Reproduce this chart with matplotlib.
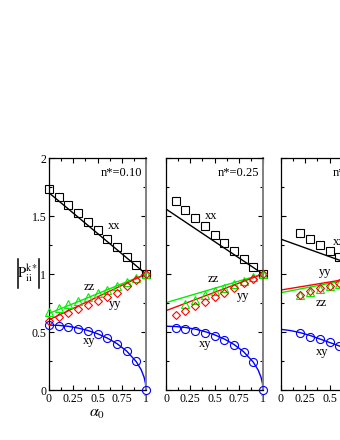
import matplotlib
matplotlib.use("Agg")
import matplotlib.pyplot as plt
from matplotlib.lines import Line2D
from matplotlib.ticker import MultipleLocator, FuncFormatter

plt.rcParams['font.family'] = ['Liberation Serif', 'DejaVu Serif']
plt.rcParams['mathtext.fontset'] = 'stix'

# ---- data ----
panel_labels = ["n*=0.10", "n*=0.25", "n*=0.50"]

# panel 1 (n*=0.10): simulation points
a1 = [0, 0.1, 0.2, 0.3, 0.4, 0.5, 0.6, 0.7, 0.8, 0.9, 1.0]
xx1 = [1.73, 1.66, 1.595, 1.53, 1.45, 1.38, 1.30, 1.23, 1.15, 1.075, 1.0]
zz1 = [0.675, 0.71, 0.74, 0.77, 0.80, 0.835, 0.865, 0.90, 0.93, 0.965, 1.0]
yy1 = [0.595, 0.63, 0.665, 0.70, 0.73, 0.765, 0.80, 0.84, 0.895, 0.945, 1.0]
xy1 = [0.56, 0.552, 0.54, 0.526, 0.509, 0.485, 0.445, 0.40, 0.336, 0.25, 0.0]

# panel 2 (n*=0.25)
a2 = [0.1, 0.2, 0.3, 0.4, 0.5, 0.6, 0.7, 0.8, 0.9, 1.0]
xx2 = [1.63, 1.555, 1.48, 1.41, 1.34, 1.27, 1.20, 1.13, 1.06, 1.0]
yy2 = [0.647, 0.684, 0.724, 0.761, 0.80, 0.84, 0.88, 0.92, 0.96, 1.0]
xy2 = [0.532, 0.523, 0.511, 0.494, 0.468, 0.43, 0.388, 0.325, 0.239, 0.0]
a2z = [0.2, 0.3, 0.4, 0.5, 0.6, 0.7, 0.8, 0.9, 1.0]
zz2 = [0.745, 0.78, 0.815, 0.85, 0.88, 0.91, 0.94, 0.97, 1.0]

# panel 3 (cut off at the right edge)
a3 = [0.2, 0.3, 0.4, 0.5, 0.6]
xx3 = [1.35, 1.30, 1.25, 1.20, 1.15]
yy3 = [0.82, 0.85, 0.876, 0.90, 0.92]
zz3 = [0.815, 0.845, 0.872, 0.897, 0.918]
xy3 = [0.488, 0.46, 0.44, 0.414, 0.38]

# theory lines (straight ones: end points)
a_line = [0, 1]
xx_th = [[1.70, 1.0], [1.56, 1.0], [1.30, 1.0]]
zz_th = [[0.66, 1.0], [0.753, 1.0], [0.839, 1.0]]
yy_th = [[0.605, 1.0], [0.684, 1.0], [0.862, 1.0]]

# xy theory curves
a_curve = [0, 0.1, 0.2, 0.3, 0.4, 0.5, 0.6, 0.7, 0.8, 0.9, 0.95, 0.98, 0.995, 1.0]
xy_th = [
    [0.56, 0.557, 0.549, 0.534, 0.513, 0.485, 0.448, 0.40, 0.336, 0.244, 0.175, 0.111, 0.056, 0.0],
    [0.55, 0.547, 0.539, 0.525, 0.504, 0.476, 0.44, 0.393, 0.33, 0.24, 0.172, 0.109, 0.055, 0.0],
    [0.523, 0.512, 0.494, 0.47, 0.44, 0.41, 0.38, 0.34, 0.29, 0.21, 0.15, 0.095, 0.048, 0.0],
]

sims = [
    dict(xx=(a1, xx1), zz=(a1, zz1), yy=(a1, yy1), xy=(a1, xy1)),
    dict(xx=(a2, xx2), zz=(a2z, zz2), yy=(a2, yy2), xy=(a2, xy2)),
    dict(xx=(a3, xx3), zz=(a3, zz3), yy=(a3, yy3), xy=(a3, xy3)),
]

# text label positions (data coords)
tags = [
    dict(xx=(0.675, 1.41), zz=(0.41, 0.89), yy=(0.68, 0.74), xy=(0.41, 0.42)),
    dict(xx=(0.47, 1.50), zz=(0.49, 0.955), yy=(0.80, 0.81), xy=(0.40, 0.40)),
    dict(xx=(0.60, 1.276), zz=(0.42, 0.75), yy=(0.45, 1.02), xy=(0.42, 0.33)),
]

W, H = 340, 440
fig = plt.figure(figsize=(W / 100, H / 100), dpi=100)

lefts = [49, 166, 281]
axw, axh = 97, 232
bottom = 50

colors = dict(xx='black', zz='#00ee00', yy='red', xy='blue')
markers = dict(xx='s', zz='^', yy='D', xy='o')
msizes = dict(xx=5.2, zz=5.2, yy=4.2, xy=5.8)

fmt = FuncFormatter(lambda v, p: '%g' % v)

for i in range(3):
    ax = fig.add_axes([lefts[i] / W, bottom / H, axw / W, axh / H])
    ax.set_xlim(0, 1)
    ax.set_ylim(0, 2)

    ax.plot(a_line, xx_th[i], color='black', lw=1)
    ax.plot(a_line, zz_th[i], color=colors['zz'], lw=1)
    ax.plot(a_line, yy_th[i], color=colors['yy'], lw=1)
    ax.plot(a_curve, xy_th[i], color=colors['xy'], lw=1)

    for k in ['xx', 'zz', 'yy', 'xy']:
        xs, ys = sims[i][k]
        ax.plot(xs, ys, ls='none', marker=markers[k], ms=msizes[k], mfc='none',
                mec=colors[k], mew=0.8, clip_on=False, zorder=5)
        tx, ty = tags[i][k]
        ax.text(tx, ty, k, fontsize=9, ha='center', va='center')

    ax.text(0.965, 0.935, panel_labels[i], transform=ax.transAxes,
            ha='right', va='center', fontsize=9)

    ax.xaxis.set_major_locator(MultipleLocator(0.25))
    ax.xaxis.set_minor_locator(MultipleLocator(0.125))
    ax.yaxis.set_major_locator(MultipleLocator(0.5))
    ax.yaxis.set_minor_locator(MultipleLocator(0.25))
    ax.xaxis.set_major_formatter(fmt)
    ax.yaxis.set_major_formatter(fmt)
    ax.tick_params(which='both', direction='in', top=True, right=True,
                   labelsize=8.5, width=0.8, pad=2)
    ax.tick_params(which='major', length=3.5)
    ax.tick_params(which='minor', length=2)
    for s in ['left', 'bottom', 'top']:
        ax.spines[s].set_linewidth(0.9)
    ax.spines['right'].set_linewidth(1.4)
    ax.spines['right'].set_color('#808080')
    if i > 0:
        ax.tick_params(labelleft=False)
    else:
        ax.set_xlabel(r'$\alpha_0$', fontsize=11.5, labelpad=0)

# y label: |P^{k*}_{ii}| with tall bars drawn as lines
fig.text(28 / W, 1 - 273 / H, r'$\mathrm{P}^{\mathrm{k*}}_{\mathrm{ii}}$',
         fontsize=10.5, ha='center', va='center')
for bx in (17.5, 39):
    fig.add_artist(Line2D([bx / W, bx / W], [1 - 259 / H, 1 - 288 / H],
                          color='black', lw=1.1))

fig.savefig('out.png', dpi=100)
